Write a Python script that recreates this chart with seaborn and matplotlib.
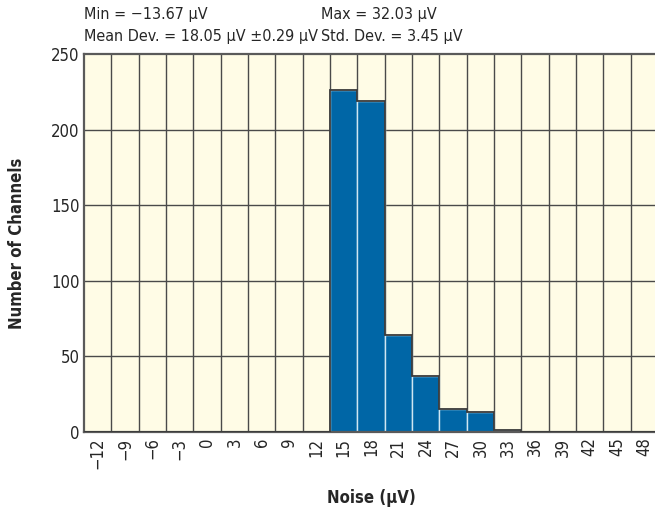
"""
Noise histogram: number of channels per noise bin
"""

import matplotlib
matplotlib.use('Agg')
import matplotlib.pyplot as plt
import seaborn as sns
import numpy as np
import pandas as pd

# bin centres (uV) and channel counts
noise_bins = [-12, -9, -6, -3, 0, 3, 6, 9, 12, 15, 18, 21, 24, 27, 30, 33, 36, 39, 42, 45, 48]
channel_counts = [0, 0, 0, 0, 0, 0, 0, 0, 0, 226, 219, 64, 37, 15, 13, 1, 0, 0, 0, 0, 0]
y_ticks = [0, 50, 100, 150, 200, 250]

stats_left = ['Min = \u221213.67 \u00b5V', 'Mean Dev. = 18.05 \u00b5V \u00b10.29 \u00b5V']
stats_right = ['Max = 32.03 \u00b5V', 'Std. Dev. = 3.45 \u00b5V']

BG = '#fffce6'
BAR = '#0066a6'
GRID = '#4a4a4a'

sns.set_style('white')
plt.rcParams['font.family'] = ['DejaVu Sans', 'Liberation Sans']
plt.rcParams['font.stretch'] = 'condensed'

labels = [f'{v}'.replace('-', '\u2212') for v in noise_bins]
df = pd.DataFrame({'noise': labels, 'count': channel_counts})

fig = plt.figure(figsize=(6.55, 5.19), dpi=100)
ax = fig.add_axes([84 / 655, 1 - 432 / 519, 574 / 655, 378 / 519])
ax.set_facecolor(BG)

sns.barplot(data=df, x='noise', y='count', order=labels, color=BAR,
            width=1.0, saturation=1, edgecolor='#cfe6f2', linewidth=1.0,
            ax=ax, zorder=2)

# dark outline around the filled histogram
edges = np.arange(len(channel_counts) + 1) - 0.5
ax.stairs(channel_counts, edges, baseline=0, color='#3a3a3a', linewidth=1.3, zorder=3)

# grid: cell borders between categories and every 50 channels
for xb in edges[1:-1]:
    ax.axvline(xb, color=GRID, linewidth=1.0, zorder=1)
for yt in y_ticks[1:-1]:
    ax.axhline(yt, color=GRID, linewidth=1.0, zorder=1)

ax.set_xlim(-0.5, len(noise_bins) - 0.5)
ax.set_ylim(0, 250)
ax.set_yticks(y_ticks)
ax.tick_params(axis='x', labelrotation=90, labelsize=12, length=0, pad=4)
ax.tick_params(axis='y', labelsize=12, length=0, pad=3)

for side in ['top', 'left', 'bottom']:
    ax.spines[side].set_color('#5a5a5a')
    ax.spines[side].set_linewidth(1.6)
ax.spines['right'].set_visible(False)

ax.set_xlabel('Noise (\u00b5V)', fontsize=12, fontweight='bold')
ax.set_ylabel('Number of Channels', fontsize=12, fontweight='bold')
ax.xaxis.set_label_coords(287 / 574, -57 / 378)
ax.yaxis.set_label_coords(-58 / 574, 0.5)

for i, (l, r) in enumerate(zip(stats_left, stats_right)):
    y = 1 - (14 + 23 * i) / 519
    fig.text(84 / 655, y, l, fontsize=11.5, va='center', ha='left')
    fig.text(321 / 655, y, r, fontsize=11.5, va='center', ha='left')

plt.savefig('out.png', dpi=100)
